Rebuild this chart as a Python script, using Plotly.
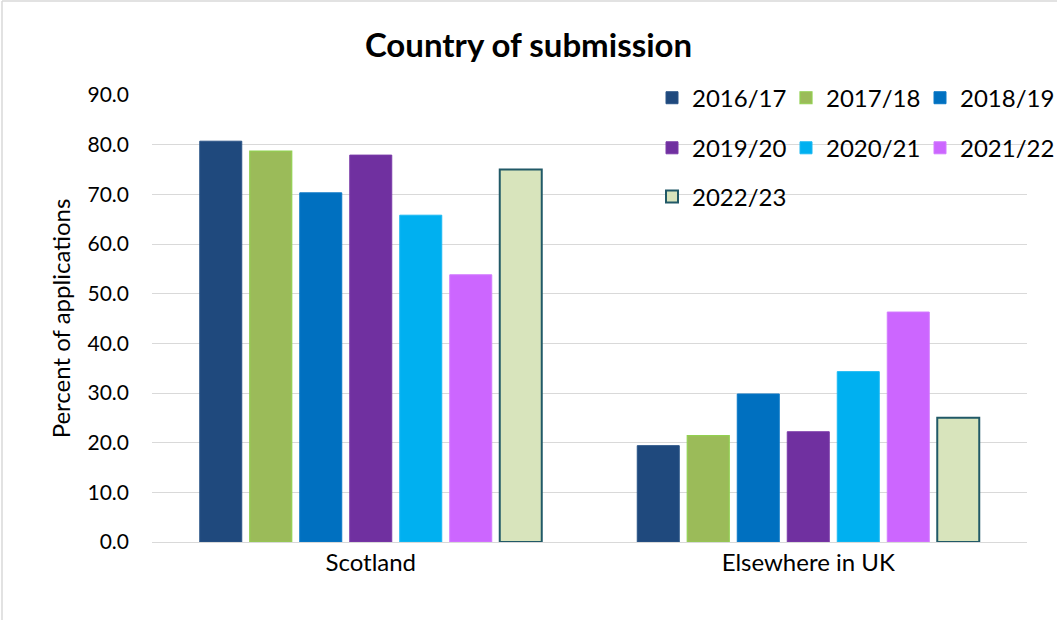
import plotly.graph_objects as go

categories = ["Scotland", "Elsewhere in UK"]
years = ["2016/17", "2017/18", "2018/19", "2019/20", "2020/21", "2021/22", "2022/23"]
scotland = [80.7, 78.7, 70.3, 77.9, 65.8, 53.8, 75.0]
elsewhere = [19.4, 21.4, 29.8, 22.2, 34.3, 46.3, 25.0]
y_ticks = [0, 10, 20, 30, 40, 50, 60, 70, 80, 90]

fills = ["#1F497D", "#9BBB59", "#0070C0", "#7030A0", "#00B0F0", "#CC66FF", "#D8E4BC"]
edges = ["#2A5487", "#92D050", "#0A78C6", "#7A3AA8", "#1AB8F2", "#D27AFF", "#215967"]
edge_w = [1, 1.2, 1, 1, 1, 1, 2]
legend_ids = ["legend", "legend", "legend", "legend2", "legend2", "legend2", "legend3"]

FONT = "Lato"
PW = 905.0  # paper width in px (l=152, r=0)
PH = 447.0  # paper height in px (t=95, b=78)

fig = go.Figure()
for i, yr in enumerate(years):
    fig.add_trace(go.Bar(
        x=categories,
        y=[scotland[i], elsewhere[i]],
        name=yr,
        marker=dict(color=fills[i], line=dict(color=edges[i], width=edge_w[i])),
        legend=legend_ids[i],
    ))

leg_common = dict(orientation="h", xanchor="left", yanchor="middle",
                  font=dict(family=FONT, size=24, color="#000000"),
                  entrywidth=89, entrywidthmode="pixels",
                  bgcolor="rgba(0,0,0,0)", borderwidth=0, traceorder="normal")
leg_x = (652 - 152) / PW

border = dict(color="#D9D9D9", width=1.5)

fig.update_layout(
    width=1057, height=620,
    margin=dict(l=152, r=0, t=95, b=78),
    paper_bgcolor="#FFFFFF", plot_bgcolor="#FFFFFF",
    font=dict(family=FONT, color="#000000"),
    title=dict(text="<b>Country of submission</b>", x=0.5, xanchor="center",
               y=1 - 45 / 620, yanchor="middle", yref="container",
               font=dict(family=FONT, size=33, color="#000000")),
    barmode="group", bargap=0.2, bargroupgap=0.16,
    showlegend=True,
    legend=dict(x=leg_x, y=0.993, **leg_common),
    legend2=dict(x=leg_x, y=0.881, **leg_common),
    legend3=dict(x=leg_x, y=0.772, **leg_common),
    xaxis=dict(type="category", domain=[0, 875 / PW], showgrid=False, showline=False,
               ticks="", ticklabelstandoff=4,
               tickfont=dict(family=FONT, size=24, color="#000000")),
    yaxis=dict(range=[0, 90], tickvals=y_ticks, tickformat=".1f",
               showgrid=True, gridcolor="#D9D9D9", gridwidth=1,
               zeroline=True, zerolinecolor="#D9D9D9", zerolinewidth=1,
               showline=False, ticks="", ticklabelstandoff=22,
               tickfont=dict(family=FONT, size=21, color="#000000"),
               title=dict(text="Percent of applications", standoff=10,
                          font=dict(family=FONT, size=24, color="#000000"))),
    shapes=[
        dict(type="line", xref="paper", yref="paper",
             x0=(2 - 152) / PW, x1=1.0, y0=(542 - 1) / PH, y1=(542 - 1) / PH,
             line=border, layer="below"),
        dict(type="line", xref="paper", yref="paper",
             x0=(2 - 152) / PW, x1=(2 - 152) / PW, y0=(542 - 620) / PH, y1=(542 - 1) / PH,
             line=border, layer="below"),
    ],
)

fig.write_html("out.html")
